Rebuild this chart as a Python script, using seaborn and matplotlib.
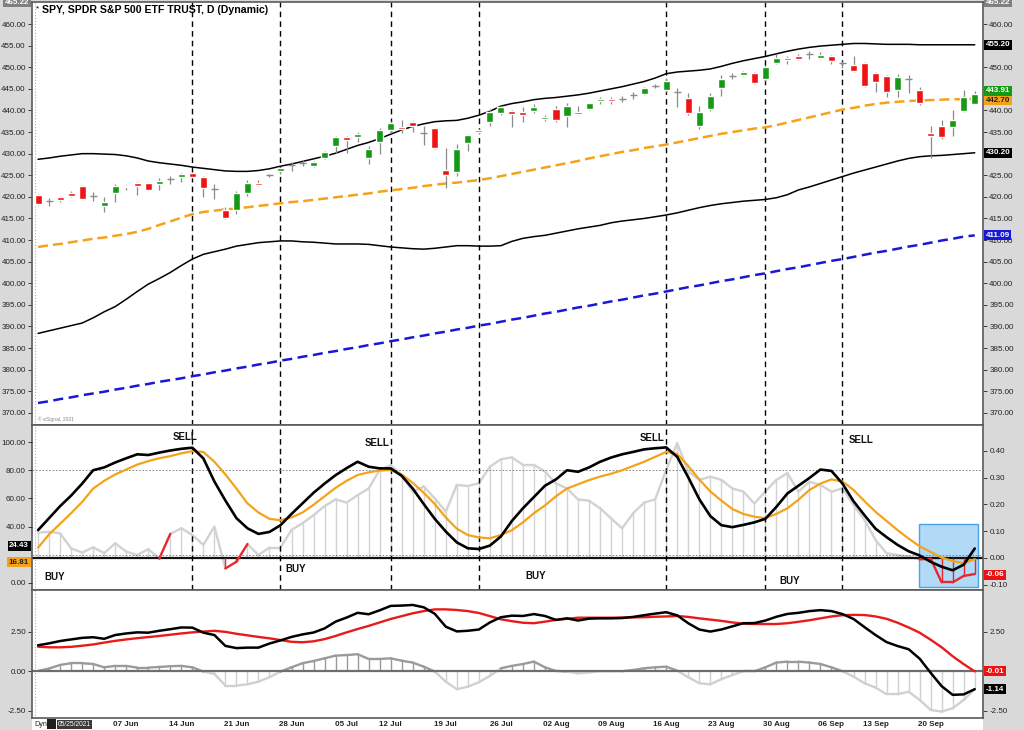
import numpy as np
import pandas as pd
import matplotlib
matplotlib.use("Agg")
import matplotlib.pyplot as plt
import seaborn as sns
from matplotlib.patches import Rectangle
from matplotlib.ticker import FormatStrFormatter

# ---------------- data ----------------
dates = pd.bdate_range("2021-05-25", "2021-09-24")
holidays = pd.to_datetime(["2021-05-31", "2021-07-05", "2021-09-06"])
dates = dates[~dates.isin(holidays)]

opens = [420.5,419.0,420.0,421.0,422.5,420.3,418.0,420.9,422.5,423.1,
         423.2,423.0,424.2,424.6,425.5,424.6,421.9,417.0,416.9,421.0,
         423.2,425.1,426.0,427.3,427.8,427.2,428.9,431.8,433.8,433.8,
         428.9,432.7,435.5,436.1,437.3,434.7,435.9,426.2,425.7,432.4,
         434.9,437.4,439.4,439.9,439.7,439.9,438.0,440.3,438.6,439.7,
         440.3,442.2,442.6,442.6,443.6,443.7,445.7,444.7,444.3,442.8,
         436.3,440.3,445.3,448.0,448.2,448.6,447.2,451.0,452.2,452.5,
         453.0,452.2,452.6,451.0,450.6,451.0,448.6,448.0,444.7,447.3,
         444.7,434.8,436.5,436.2,439.9,441.6]
highs = [420.6,419.7,420.3,421.3,422.7,421.2,420.0,423.0,422.8,423.5,
         423.4,424.4,424.8,425.6,425.8,424.8,423.0,417.6,421.3,424.0,
         423.8,425.4,427.0,428.0,428.6,428.3,430.6,434.1,434.0,434.9,
         431.7,435.9,437.6,437.8,437.6,436.3,436.0,431.3,432.3,434.6,
         435.7,440.3,441.1,440.0,440.7,441.4,439.0,441.0,441.7,441.1,
         441.8,443.2,443.2,443.3,444.2,445.5,446.1,447.5,445.1,444.0,
         441.1,444.1,448.2,448.6,449.1,448.8,450.5,453.0,452.5,453.1,
         453.8,453.6,452.9,451.5,452.6,451.2,449.0,448.2,448.4,448.2,
         445.4,436.5,437.7,440.1,444.7,444.5]
lows = [418.2,417.9,418.9,420.0,419.4,419.0,416.5,418.9,421.5,420.5,
        421.6,421.7,423.0,423.5,424.4,420.0,419.4,414.9,416.1,420.3,
        422.4,424.7,425.2,426.0,427.2,426.9,428.7,430.2,430.1,432.6,
        427.6,430.0,434.7,434.7,434.9,432.0,431.0,422.1,424.8,430.6,
        434.5,436.4,438.9,436.1,437.4,439.4,437.5,437.4,436.1,438.9,
        440.0,441.6,441.5,441.9,442.6,443.5,445.2,444.2,440.9,439.0,
        435.8,439.9,443.4,447.3,447.9,446.1,446.9,450.8,450.8,451.7,
        451.9,451.8,450.8,449.9,449.0,445.5,444.2,443.1,443.2,444.0,
        441.3,429.0,433.4,434.0,439.7,441.4]
closes = [418.3,419.0,419.3,420.1,419.6,420.3,418.7,422.5,422.2,422.4,
          421.7,423.6,424.2,425.3,424.6,422.1,421.9,415.0,421.0,423.1,
          422.7,425.1,426.6,427.3,427.8,428.1,430.3,433.8,433.1,434.5,
          431.0,435.5,437.1,435.6,436.3,434.7,431.3,425.0,431.0,434.4,
          435.4,439.7,440.9,439.1,438.9,440.7,438.5,437.7,441.1,439.1,
          441.7,442.6,442.2,442.6,443.6,445.1,445.7,446.9,444.3,439.4,
          439.7,443.4,447.2,448.0,448.8,446.3,450.1,452.2,451.6,451.9,
          453.0,452.9,451.5,451.0,449.1,445.7,446.7,444.3,447.8,447.3,
          441.7,434.2,433.8,437.8,443.0,443.91]

upper_band = [428.7,429.0,429.4,429.7,430.0,430.0,429.9,429.8,429.5,429.0,
              428.3,427.9,427.6,427.3,426.9,426.6,426.3,426.0,425.9,425.9,
              426.1,426.5,427.1,427.6,428.2,428.8,429.4,430.1,431.0,431.9,
              432.6,433.5,434.5,435.5,436.3,436.9,437.4,437.6,437.7,438.2,
              438.9,439.8,441.0,441.6,442.0,442.5,442.8,443.0,443.3,443.6,
              444.0,444.5,445.0,445.5,446.1,446.7,447.5,448.5,448.9,449.1,
              449.3,449.6,450.2,450.9,451.5,452.0,452.5,453.1,453.7,454.2,
              454.6,454.9,455.1,455.3,455.5,455.5,455.4,455.3,455.3,455.3,
              455.2,455.2,455.2,455.2,455.2,455.2]
mid_band = [408.4,408.8,409.1,409.5,409.9,410.3,410.6,411.0,411.4,411.9,
            412.6,413.5,414.3,415.2,416.0,416.5,416.8,417.1,417.3,417.6,
            417.9,418.2,418.5,418.8,419.0,419.3,419.6,419.9,420.2,420.5,
            420.8,421.2,421.5,421.8,422.1,422.5,422.8,423.1,423.3,423.6,
            423.9,424.3,424.8,425.3,425.8,426.3,426.8,427.3,427.8,428.3,
            428.9,429.4,429.9,430.4,430.8,431.3,431.7,432.1,432.6,433.1,
            433.6,434.1,434.6,435.0,435.4,435.8,436.1,436.6,437.2,437.8,
            438.4,439.0,439.6,440.2,440.6,441.1,441.5,441.8,442.0,442.2,
            442.3,442.4,442.5,442.6,442.6,442.7]
lower_band = [388.4,389.0,389.6,390.2,390.8,392.0,393.4,394.6,396.3,398.1,
              399.8,401.1,402.5,404.1,405.6,406.7,407.3,407.9,408.6,409.0,
              409.4,409.6,409.8,409.8,409.6,409.5,409.3,409.1,409.1,409.1,
              409.0,408.7,408.4,408.2,408.0,407.9,408.1,408.4,408.7,408.7,
              408.6,408.6,408.7,409.7,410.4,410.8,411.1,411.6,412.1,412.6,
              413.0,413.4,414.0,414.4,414.7,415.0,415.4,415.8,416.3,416.9,
              417.5,418.0,418.4,418.7,419.0,419.2,419.4,419.8,420.5,421.6,
              422.3,423.1,423.9,424.7,425.5,426.2,426.9,427.6,428.3,428.9,
              429.3,429.5,429.6,429.8,430.0,430.2]
ma200 = [372.3,372.7,373.2,373.6,374.1,374.5,374.9,375.4,375.8,376.3,
         376.7,377.2,377.6,378.0,378.5,378.9,379.4,379.8,380.3,380.7,
         381.2,381.6,382.1,382.5,383.0,383.4,383.9,384.3,384.8,385.2,
         385.7,386.1,386.6,387.0,387.5,387.9,388.4,388.8,389.3,389.7,
         390.2,390.6,391.1,391.6,392.0,392.5,393.0,393.4,393.9,394.4,
         394.8,395.3,395.8,396.2,396.7,397.2,397.6,398.1,398.6,399.1,
         399.5,400.0,400.5,400.9,401.4,401.9,402.3,402.8,403.3,403.7,
         404.2,404.7,405.2,405.6,406.1,406.6,407.1,407.5,408.0,408.5,
         408.9,409.4,409.9,410.3,410.8,411.09]

stoch_k = [37.5,46.0,54.5,62.0,70.5,80.0,82.0,85.5,88.5,91.3,
           90.8,92.5,94.0,95.2,96.0,88.4,72.0,58.5,46.0,38.8,
           34.8,36.2,41.0,49.0,56.5,64.0,70.5,76.5,81.5,86.0,
           82.5,81.3,81.3,76.0,67.0,56.0,45.5,36.5,28.8,24.6,
           24.1,26.5,33.0,44.0,53.0,61.0,69.0,73.5,80.0,78.9,
           82.0,86.0,89.0,91.3,93.0,94.8,95.6,96.2,89.5,75.0,
           59.5,47.5,41.0,39.6,41.2,43.0,45.5,54.0,63.5,69.0,
           74.5,80.5,79.5,70.5,58.0,48.0,38.5,32.5,27.0,22.5,
           19.5,15.0,11.5,9.0,13.0,24.43]
stoch_d = [25.0,34.5,42.0,49.5,57.5,67.0,72.5,77.0,80.5,84.0,
           86.5,88.5,90.0,92.0,93.5,93.0,86.0,77.0,67.0,56.5,
           50.0,45.5,44.5,46.5,50.0,55.5,61.5,67.5,72.5,76.6,
           78.5,79.8,80.1,77.0,71.0,64.0,56.0,46.5,38.5,34.0,
           32.3,31.7,34.0,37.5,43.0,49.5,55.0,61.5,67.0,70.0,
           73.0,75.5,77.5,80.0,83.0,86.0,89.5,93.0,91.5,83.0,
           73.5,65.0,58.5,52.5,49.0,47.0,46.0,49.0,53.0,59.0,
           66.0,70.5,73.5,72.0,66.0,58.0,50.5,44.0,37.5,31.5,
           26.0,22.0,18.0,15.5,14.0,16.81]
osc_hist = [0.095,0.098,0.092,0.036,0.020,0.040,0.018,0.055,0.024,0.011,
            0.033,-0.002,0.090,0.111,0.086,0.049,0.117,-0.039,-0.014,0.052,
            0.011,0.039,0.039,0.105,0.130,0.160,0.194,0.219,0.207,0.235,
            0.260,0.329,0.347,0.310,0.248,0.267,0.223,0.173,0.273,0.269,
            0.279,0.341,0.369,0.376,0.348,0.348,0.323,0.279,0.260,0.219,
            0.214,0.186,0.148,0.111,0.167,0.207,0.219,0.329,0.429,0.323,
            0.292,0.304,0.292,0.260,0.248,0.204,0.248,0.292,0.317,0.248,
            0.285,0.273,0.248,0.260,0.198,0.142,0.067,0.018,0.011,0.005,
            -0.005,-0.003,-0.091,-0.091,-0.067,-0.06]

macd = [1.65,1.77,1.92,2.02,2.12,2.16,2.06,2.30,2.40,2.47,
        2.45,2.57,2.67,2.78,2.77,2.45,2.30,1.61,1.47,1.50,
        1.50,1.76,1.96,2.18,2.34,2.46,2.72,3.15,3.41,3.71,
        3.62,3.87,4.15,4.17,4.21,4.06,3.65,2.83,2.53,2.57,
        2.65,3.10,3.43,3.53,3.51,3.63,3.51,3.26,3.36,3.22,
        3.34,3.36,3.36,3.38,3.45,3.56,3.66,3.75,3.55,3.05,
        2.65,2.52,2.65,2.85,3.05,3.06,3.22,3.46,3.64,3.71,
        3.82,3.88,3.82,3.63,3.32,2.80,2.30,1.85,1.60,1.40,
        0.80,-0.10,-0.95,-1.50,-1.47,-1.14]
macd_signal = [1.56,1.52,1.52,1.55,1.62,1.70,1.82,1.93,2.02,2.10,
               2.17,2.24,2.32,2.40,2.47,2.52,2.57,2.50,2.38,2.28,
               2.18,2.09,1.98,1.87,1.84,1.90,2.04,2.24,2.47,2.68,
               2.88,3.10,3.32,3.50,3.68,3.82,3.93,3.93,3.89,3.82,
               3.70,3.50,3.30,3.18,3.08,3.05,3.15,3.26,3.33,3.40,
               3.40,3.40,3.40,3.41,3.42,3.43,3.46,3.48,3.51,3.45,
               3.36,3.28,3.20,3.10,3.02,3.00,3.00,3.00,3.05,3.14,
               3.24,3.36,3.48,3.56,3.58,3.57,3.48,3.33,3.08,2.78,
               2.45,2.00,1.52,0.95,0.45,-0.01]
macd_hist = [0.02,0.17,0.40,0.51,0.51,0.46,0.25,0.34,0.34,0.23,
             0.23,0.27,0.32,0.34,0.25,-0.02,-0.17,-0.91,-0.91,-0.83,
             -0.66,-0.38,-0.02,0.25,0.51,0.65,0.82,0.99,1.03,1.08,
             0.78,0.78,0.82,0.67,0.55,0.29,-0.02,-0.66,-1.14,-0.98,
             -0.70,-0.30,0.19,0.34,0.46,0.61,0.25,0.02,-0.02,-0.13,
             -0.08,0.00,-0.01,0.00,0.08,0.19,0.25,0.29,0.04,-0.38,
             -0.76,-0.83,-0.51,-0.24,0.00,0.00,0.25,0.55,0.61,0.61,
             0.55,0.46,0.25,0.00,-0.34,-0.76,-1.04,-1.46,-1.46,-1.30,
             -1.82,-2.46,-2.56,-2.35,-1.82,-1.14]

signal_dates = ["2021-06-15", "2021-06-25", "2021-07-12", "2021-07-22",
                "2021-08-16", "2021-08-27", "2021-09-08"]
signal_labels = ["SELL", "SELL", "SELL", "SELL", "BUY", "BUY", "BUY", "BUY"]

# ---------------- style ----------------
sns.set_style("white")
plt.rcParams["font.family"] = ["Liberation Sans", "DejaVu Sans"]

STRIP = "#d9d9d9"
SPINE = "#5a5a5a"
GREEN = "#169a16"
RED = "#ee1414"
ORANGE = "#f5a21b"
BLUE = "#1818d8"

W, H = 1024, 730
fig = plt.figure(figsize=(W / 100, H / 100), dpi=100, facecolor=STRIP)
L, R = 32 / W, 983 / W

fig.patches.append(Rectangle((L, 0), R - L, 12 / H, transform=fig.transFigure,
                             facecolor="white", edgecolor="none", zorder=-5))


def panel(top_px, bot_px):
    return fig.add_axes([L, 1 - bot_px / H, R - L, (bot_px - top_px) / H])


ax_p = panel(2, 425)
ax_s = panel(425, 590)
ax_m = panel(590, 718)

x = np.arange(len(dates))
xlim = (-0.55, 85.75)
sig_x = [int(dates.get_loc(pd.Timestamp(d))) for d in signal_dates]


def style_axis(ax):
    ax.set_facecolor("white")
    for s in ax.spines.values():
        s.set_color(SPINE)
        s.set_linewidth(1.2)
    ax.set_xlim(*xlim)
    ax.tick_params(axis="y", labelsize=5.8, colors="#222222", length=3,
                   width=0.6, pad=1.5)
    ax.yaxis.set_major_formatter(FormatStrFormatter("%.2f"))
    ax.set_xlabel("")
    ax.set_ylabel("")


def badge(ax, side, y, txt, fc, tc="white"):
    xp = 1.003 if side == "r" else -0.003
    ax.text(xp, y, txt, transform=ax.get_yaxis_transform(),
            ha="left" if side == "r" else "right", va="center",
            fontsize=5.8, color=tc, fontweight="bold", clip_on=False,
            zorder=20, bbox=dict(boxstyle="square,pad=0.18", fc=fc, ec="none"))


def hide_right_labels(ax, values):
    for tick, val in zip(ax.yaxis.get_major_ticks(), ax.get_yticks()):
        if any(abs(val - v) < 1e-9 for v in values):
            tick.label2.set_visible(False)


# ---------------- price panel ----------------
style_axis(ax_p)
o = np.array(opens)
c = np.array(closes)
up, dn, dj = c > o, c < o, c == o
ax_p.vlines(x, lows, highs, color="#8a8a8a", lw=0.9, zorder=3)
ax_p.bar(x[up], (c - o)[up], bottom=o[up], width=0.64, color=GREEN, zorder=4)
ax_p.bar(x[dn], (c - o)[dn], bottom=o[dn], width=0.64, color=RED, zorder=4)
ax_p.hlines(c[dj], x[dj] - 0.32, x[dj] + 0.32, color="#8a8a8a", lw=1.0, zorder=4)

sns.lineplot(x=x, y=upper_band, ax=ax_p, color="black", lw=1.1, zorder=2)
sns.lineplot(x=x, y=lower_band, ax=ax_p, color="black", lw=1.1, zorder=2)
sns.lineplot(x=x, y=mid_band, ax=ax_p, color=ORANGE, lw=1.8,
             linestyle=(0, (4, 2)), zorder=2)
sns.lineplot(x=x, y=ma200, ax=ax_p, color=BLUE, lw=1.8,
             linestyle=(0, (4, 2.2)), zorder=2)

ax_p.set_ylim(367.2, 465.1)
ax_p.set_yticks(np.arange(370, 461, 5))
ax_p.tick_params(axis="y", left=True, right=True, labelleft=True, labelright=True)
ax_p.set_xticks([])
ax_p.set_xlabel("")
ax_p.set_ylabel("")
hide_right_labels(ax_p, [455.0, 445.0, 430.0])
for sx in sig_x:
    ax_p.axvline(sx, color="black", lw=1.0, ls=(0, (4, 3)), zorder=1)
ax_p.axvline(-0.25, color="#b0b0b0", lw=0.8, ls=":", zorder=1)

ax_p.text(0.004, 0.992, "*", transform=ax_p.transAxes, fontsize=6,
          va="top", ha="left", color="black")
ax_p.text(0.011, 0.992, "SPY, SPDR S&P 500 ETF TRUST, D (Dynamic)",
          transform=ax_p.transAxes, fontsize=7.6, fontweight="bold",
          va="top", ha="left", color="black")
ax_p.text(0.006, 0.008, "© eSignal, 2021", transform=ax_p.transAxes,
          fontsize=3.6, color="#888888", va="bottom", ha="left")

badge(ax_p, "l", 465.1, "465.22", "#808080")
badge(ax_p, "r", 465.1, "465.22", "#808080")
badge(ax_p, "r", upper_band[-1], "455.20", "black")
badge(ax_p, "r", mid_band[-1] - 0.3, "442.70", ORANGE, "#222222")
badge(ax_p, "r", closes[-1] + 0.6, "443.91", GREEN)
badge(ax_p, "r", lower_band[-1], "430.20", "black")
badge(ax_p, "r", ma200[-1], "411.09", BLUE)

# ---------------- stochastic panel ----------------
style_axis(ax_s)
ax_s.set_ylim(-0.1196, 0.497)
ax_s.set_yticks([-0.1, 0.0, 0.1, 0.2, 0.3, 0.4])
ax_s.set_xticks([])

h = np.array(osc_hist)
GRAYH = "#d2d2d2"
REDH = "#e8262b"
ax_s.add_patch(Rectangle((80.0 - 0.1, -0.109), 5.4, 0.235, facecolor="#a9d6f7",
                         edgecolor="#3a9be3", lw=1.0, alpha=0.9, zorder=2))
for i in range(len(h)):
    ax_s.vlines(x[i], 0, h[i], color=REDH if h[i] < 0 else GRAYH, lw=1.0,
                zorder=3 if h[i] < 0 else 1)
for i in range(len(h) - 1):
    neg = h[i] < 0
    ax_s.plot(x[i:i + 2], h[i:i + 2], color=REDH if neg else GRAYH,
              lw=1.7, zorder=3 if neg else 1.5, solid_capstyle="round")
ax_s.axhline(0, color="#111111", lw=1.6, zorder=2.5)
for sx in sig_x:
    ax_s.axvline(sx, color="black", lw=1.0, ls=(0, (4, 3)), zorder=4)
ax_s.axvline(-0.25, color="#b0b0b0", lw=0.8, ls=":", zorder=1)

ax_k = ax_s.twinx()
ax_s.yaxis.tick_right()
ax_s.tick_params(axis="y", left=False, labelleft=False, right=True,
                 labelright=True)
ax_k.yaxis.tick_left()
ax_k.set_xlim(*xlim)
ax_k.set_ylim(-5.0, 112.1)
ax_k.set_yticks([0, 40, 60, 80, 100])
ax_k.tick_params(axis="y", labelsize=5.8, colors="#222222", length=3,
                 width=0.6, pad=1.5, left=True, right=False,
                 labelleft=True, labelright=False)
ax_k.yaxis.set_major_formatter(FormatStrFormatter("%.2f"))
for s in ax_k.spines.values():
    s.set_visible(False)
ax_k.axhline(80, color="#7a7a7a", lw=0.6, ls=(0, (2, 2)), zorder=1)
ax_k.axhline(20, color="#7a7a7a", lw=0.6, ls=(0, (2, 2)), zorder=1)
sns.lineplot(x=x, y=stoch_d, ax=ax_k, color=ORANGE, lw=1.6, zorder=5)
sns.lineplot(x=x, y=stoch_k, ax=ax_k, color="black", lw=1.9, zorder=6)
ax_k.set_xlabel("")
ax_k.set_ylabel("")

txt_pos = [(13.3, 103.5), (30.8, 99.3), (55.7, 102.8), (74.7, 101.2),
           (1.5, 4.3), (23.4, 10.0), (45.2, 5.0), (68.2, 1.4)]
for lab, (tx, ty) in zip(signal_labels, txt_pos):
    ax_k.text(tx, ty, lab, fontsize=7, fontweight="bold", color="#111111",
              ha="center", va="center", zorder=7)

badge(ax_k, "l", stoch_k[-1] + 2.0, "24.43", "black")
badge(ax_k, "l", stoch_d[-1] - 2.0, "16.81", ORANGE, "#222222")
badge(ax_s, "r", osc_hist[-1] - 0.003, "-0.06", "#ee1111")

# ---------------- MACD panel ----------------
style_axis(ax_m)
ax_m.set_ylim(-2.97, 5.16)
ax_m.set_yticks([-2.5, 0.0, 2.5])
ax_m.tick_params(axis="y", left=True, right=True, labelleft=True, labelright=True)
hide_right_labels(ax_m, [0.0])
mh = np.array(macd_hist)
POS, NEG = "#9a9a9a", "#d0d0d0"
for i in range(len(mh)):
    ax_m.vlines(x[i], 0, mh[i], color=POS if mh[i] >= 0 else NEG, lw=1.0, zorder=1)
for i in range(len(mh) - 1):
    mid = 0.5 * (mh[i] + mh[i + 1])
    ax_m.plot(x[i:i + 2], mh[i:i + 2], color=POS if mid >= 0 else NEG,
              lw=1.7, zorder=1.5, solid_capstyle="round")
ax_m.axhline(0, color="#6e6e6e", lw=1.6, zorder=2)
sns.lineplot(x=x, y=macd_signal, ax=ax_m, color="#e81a1a", lw=1.7, zorder=3)
sns.lineplot(x=x, y=macd, ax=ax_m, color="black", lw=1.8, zorder=4)
ax_m.axvline(-0.25, color="#b0b0b0", lw=0.8, ls=":", zorder=1)
ax_m.set_xlabel("")
ax_m.set_ylabel("")

week_starts = pd.date_range("2021-06-07", "2021-09-20", freq="W-MON")
tick_pos = [int(np.searchsorted(dates, d)) for d in week_starts]
tick_lab = [d.strftime("%d %b") for d in week_starts]
ax_m.set_xticks(tick_pos)
ax_m.set_xticklabels(tick_lab, fontweight="bold")
ax_m.tick_params(axis="x", which="both", bottom=True, labelbottom=True,
                 labelsize=5.8, labelcolor="#222222", length=0, pad=2)
ax_m.set_xlim(*xlim)

badge(ax_m, "r", macd_signal[-1], "-0.01", "#ee1111")
badge(ax_m, "r", macd[-1], "-1.14", "black")

# bottom-left date widget
fig.text(34 / W, 1 - 724 / H, "Dyn", fontsize=5.2, va="center", ha="left",
         color="#222222", zorder=6)
fig.patches.append(Rectangle((47 / W, 1 - 729 / H), 9 / W, 10 / H,
                             transform=fig.transFigure, facecolor="#1e1e1e",
                             edgecolor="none", zorder=5))
fig.text(58 / W, 1 - 724 / H, "05/25/2021", fontsize=4.8, va="center",
         ha="left", color="white", zorder=6,
         bbox=dict(boxstyle="square,pad=0.15", fc="#3a3a3a", ec="none"))

fig.savefig("out.png", dpi=100, facecolor=STRIP)
